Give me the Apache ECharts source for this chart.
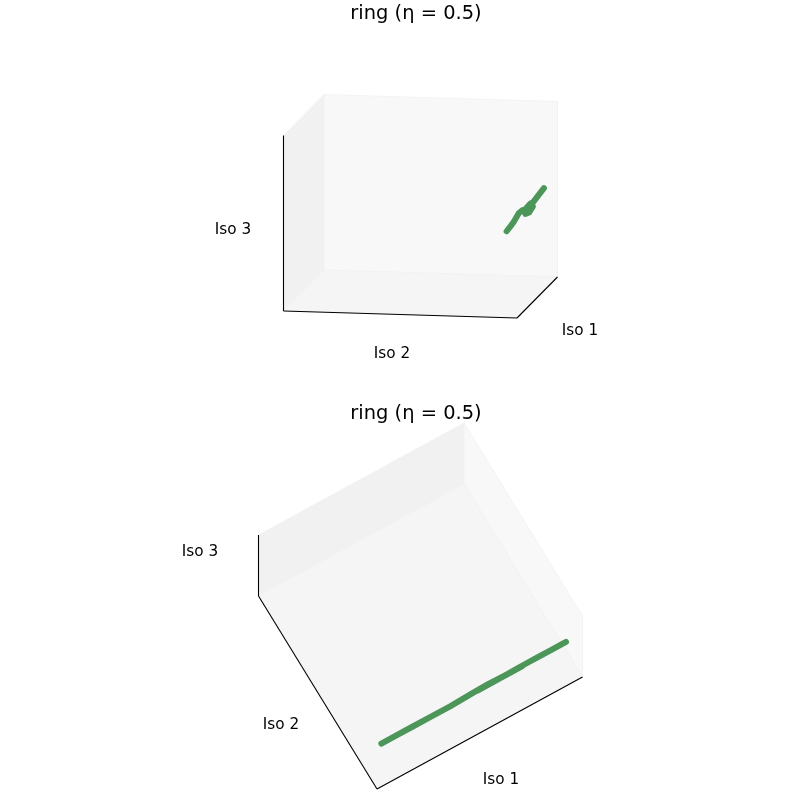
<!DOCTYPE html>
<html>
<head>
<meta charset="utf-8">
<style>html,body{margin:0;padding:0;background:#fff}#c{width:800px;height:800px}</style>
<script src="https://cdn.jsdelivr.net/npm/echarts@6/dist/echarts.min.js"></script>
</head>
<body>
<div id="c"></div>
<script>
// Data: the same 3D trajectory on a unit cube, seen from two camera angles
const iso1 = [0.052, 0.12, 0.20, 0.28, 0.38, 0.50, 0.58, 0.68, 0.74, 0.62, 0.52, 0.62, 0.72, 0.80, 0.88, 0.948];
const iso2 = [0.0535, 0.0522, 0.0484, 0.0411, 0.042, 0.0539, 0.0646, 0.0658, 0.0602, 0.0501, 0.0494, 0.0501, 0.0556, 0.0531, 0.0506, 0.049];
const iso3 = [0.480, 0.486, 0.500, 0.530, 0.525, 0.490, 0.455, 0.440, 0.460, 0.505, 0.505, 0.505, 0.490, 0.500, 0.510, 0.517];
const axisNames = ['Iso 1', 'Iso 2', 'Iso 3'];
const chartTitle = 'ring (\u03b7 = 0.5)';

// Camera projections: screen-plane direction of each 3D axis
const views = [
  { e1: [40.5, 41],   e2: [-233.5, 7],  e3: [0, 175.5],
    grid: { left: 240, top: 80, width: 360, height: 250 },
    x: [-277, 83], y: [-12, 238],
    titleTop: 14, labels: [[580, 331], [392, 354], [233, 230]] },
  { e1: [205.5, 112], e2: [-118.5, 193], e3: [0, 61],
    grid: { left: 240, top: 420, width: 360, height: 380 },
    x: [-137, 223], y: [-11, 369],
    titleTop: 414, labels: [[501, 780], [281, 725], [200, 552]] }
];
const project = (v, a, b, c) => [
  a * v.e1[0] + b * v.e2[0] + c * v.e3[0],
  a * v.e1[1] + b * v.e2[1] + c * v.e3[1]
];

const panes = [
  { color: '#f1f1f1', corners: [[0,1,0],[1,1,0],[1,1,1],[0,1,1]] },
  { color: '#f8f8f8', corners: [[1,0,0],[1,1,0],[1,1,1],[1,0,1]] },
  { color: '#f5f5f5', corners: [[0,0,0],[1,0,0],[1,1,0],[0,1,0]] }
];
const edges = [
  [[0,0,0],[0,1,0]],
  [[0,0,0],[1,0,0]],
  [[0,1,0],[0,1,1]]
];

const series = [], grid = [], xAxis = [], yAxis = [], graphic = [];
views.forEach((v, i) => {
  grid.push(Object.assign({}, v.grid));
  xAxis.push({ type: 'value', gridIndex: i, min: v.x[0], max: v.x[1], show: false });
  yAxis.push({ type: 'value', gridIndex: i, min: v.y[0], max: v.y[1], show: false });
  series.push({
    type: 'custom', xAxisIndex: i, yAxisIndex: i, z: 1, silent: true, clip: false,
    data: panes.map((p, k) => [k]),
    encode: { x: 0 },
    renderItem: (params, api) => {
      const p = panes[api.value(0)];
      const pts = p.corners.map(c => api.coord(project(v, c[0], c[1], c[2])));
      return { type: 'polygon', shape: { points: pts },
        style: { fill: p.color, stroke: '#f1f1f1', lineWidth: 0.8 } };
    }
  });
  series.push({
    type: 'custom', xAxisIndex: i, yAxisIndex: i, z: 2, silent: true, clip: false,
    data: edges.map((e, k) => [k]),
    encode: { x: 0 },
    renderItem: (params, api) => {
      const e = edges[api.value(0)];
      const a = api.coord(project(v, e[0][0], e[0][1], e[0][2]));
      const b = api.coord(project(v, e[1][0], e[1][1], e[1][2]));
      return { type: 'line', shape: { x1: a[0], y1: a[1], x2: b[0], y2: b[1] },
        style: { stroke: '#000000', lineWidth: 1.1 } };
    }
  });
  series.push({
    type: 'line', xAxisIndex: i, yAxisIndex: i, z: 3, silent: true, clip: false,
    showSymbol: false, smooth: false, animation: false,
    lineStyle: { color: '#4d965a', width: 6, cap: 'round', join: 'round' },
    data: iso1.map((a, k) => project(v, a, iso2[k], iso3[k]))
  });
  graphic.push({ type: 'text', x: 416, y: v.titleTop, silent: true,
    style: { text: chartTitle, fill: '#000', align: 'center', verticalAlign: 'middle',
      font: '19.44px "DejaVu Sans"' } });
  v.labels.forEach((l, k) => graphic.push({ type: 'text', x: l[0], y: l[1], silent: true,
    style: { text: axisNames[k], fill: '#000', align: 'center', verticalAlign: 'middle',
      font: '15.28px "DejaVu Sans"' } }));
});

const chart = echarts.init(document.getElementById('c'), null, { renderer: 'canvas' });
chart.setOption({
  backgroundColor: '#ffffff', animation: false, tooltip: { show: false },
  grid, xAxis, yAxis, series, graphic
});
</script>
</body>
</html>
